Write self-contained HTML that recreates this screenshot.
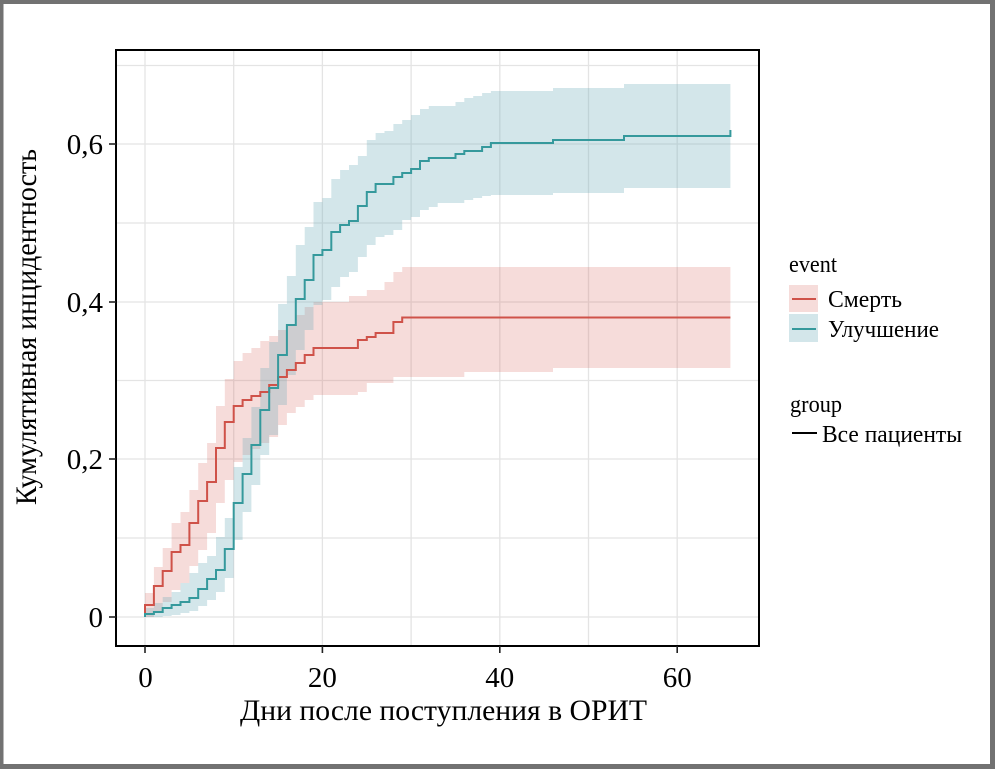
<!DOCTYPE html>
<html>
<head>
<meta charset="utf-8">
<style>
  html,body{margin:0;padding:0;background:#fff;}
  body{width:995px;height:769px;overflow:hidden;}
  svg{display:block;}
  text{font-family:"Liberation Serif","Noto Serif CJK SC",serif;fill:#000;}
</style>
</head>
<body>
<svg width="995" height="769" viewBox="0 0 995 769" xmlns="http://www.w3.org/2000/svg">
  <!-- background -->
  <rect x="0" y="0" width="995" height="769" fill="#ffffff"/>
  <!-- outer gray frame -->
  <rect x="0" y="0" width="995" height="4" fill="#727272"/>
  <rect x="0" y="0" width="3.5" height="769" fill="#727272"/>
  <rect x="990" y="0" width="5" height="769" fill="#727272"/>
  <rect x="0" y="764" width="995" height="5" fill="#727272"/>

  <!-- panel -->
  <defs>
    <clipPath id="pc"><rect x="116" y="50" width="643" height="596"/></clipPath>
  </defs>
  <rect x="116" y="50" width="643" height="596" fill="#ffffff"/>
  <g clip-path="url(#pc)" stroke="#e4e4e4" stroke-width="1.3" fill="none">
    <!-- vertical grid -->
    <line x1="145" y1="50" x2="145" y2="646"/>
    <line x1="233.7" y1="50" x2="233.7" y2="646"/>
    <line x1="322.4" y1="50" x2="322.4" y2="646"/>
    <line x1="411.1" y1="50" x2="411.1" y2="646"/>
    <line x1="499.8" y1="50" x2="499.8" y2="646"/>
    <line x1="588.5" y1="50" x2="588.5" y2="646"/>
    <line x1="677.2" y1="50" x2="677.2" y2="646"/>
    <!-- horizontal grid -->
    <line x1="116" y1="617" x2="759" y2="617"/>
    <line x1="116" y1="538" x2="759" y2="538"/>
    <line x1="116" y1="459" x2="759" y2="459"/>
    <line x1="116" y1="380.5" x2="759" y2="380.5"/>
    <line x1="116" y1="302" x2="759" y2="302"/>
    <line x1="116" y1="223" x2="759" y2="223"/>
    <line x1="116" y1="144" x2="759" y2="144"/>
    <line x1="116" y1="65.5" x2="759" y2="65.5"/>
  </g>

  <g clip-path="url(#pc)">
    <!-- red (Смерть) band -->
    <path fill="rgb(214,96,86)" fill-opacity="0.22" stroke="none"
      d="M145,593 H153.9 V567 H162.7 V548 H171.6 V523 H180.5 V512 H189.4 V490 H198.2 V463 H207.1 V443 H216 V406 H224.8 V379 H233.7 V361 H242.6 V353 H251.4 V348 H260.3 V341 H269.2 V336 H278.1 V330 H286.9 V324 H295.8 V315 H304.7 V307 H313.5 V302 H349 V296 H366.8 V290 H384.5 V282 H393.4 V272 H402.2 V267 H730.4
         V368 H553 V372 H464.3 V377 H393.4 V383 H366.8 V392 H357.9 V395 H313.5 V400 H304.7 V407 H295.8 V413 H286.9 V425 H278.1 V437 H269.2 V443 H260.3 V449 H251.4 V455 H242.6 V462 H233.7 V480 H224.8 V503 H216 V533 H207.1 V550 H198.2 V566 H189.4 V583 H180.5 V590 H171.6 V602 H162.7 V612 H153.9 V617 H145 Z"/>
    <!-- teal (Улучшение) band -->
    <path fill="rgb(108,172,185)" fill-opacity="0.3" stroke="none"
      d="M145,608 H153.9 V603 H162.7 V597 H171.6 V592 H180.5 V583 H189.4 V573 H198.2 V563 H207.1 V556 H216 V537 H224.8 V518 H233.7 V467 H242.6 V438 H251.4 V407 H260.3 V368 H269.2 V342 H278.1 V304 H286.9 V276 H295.8 V245 H304.7 V227 H313.5 V202 H322.4 V198 H331.3 V179 H340.1 V170 H349 V165 H357.9 V156 H366.8 V140 H375.6 V133 H384.5 V131 H393.4 V124 H402.2 V120 H411.1 V115 H420 V109 H428.8 V106 H455.5 V102 H464.3 V98 H473.2 V96 H482.1 V93 H490.9 V91 H553 V88 H624 V84 H730.4
         V188 H624 V193 H553 V195 H490.9 V196 H482.1 V198 H473.2 V200 H464.3 V203 H437.7 V207 H428.8 V210 H420 V217 H411.1 V220 H402.2 V230 H393.4 V235 H384.5 V237 H375.6 V245 H366.8 V257 H357.9 V272 H349 V277 H340.1 V287 H331.3 V300 H322.4 V305 H313.5 V330 H304.7 V350 H295.8 V375 H286.9 V405 H278.1 V435 H269.2 V455 H260.3 V485 H251.4 V512 H242.6 V540 H233.7 V578 H224.8 V592 H216 V600 H207.1 V606 H198.2 V611 H189.4 V613 H180.5 V615 H171.6 V616 H162.7 V617 H145 Z"/>

    <!-- red line -->
    <path fill="none" stroke="#cf5249" stroke-width="2"
      d="M145,616 V605 H153.9 V586 H162.7 V571 H171.6 V552 H180.5 V545 H189.4 V523 H198.2 V501 H207.1 V482 H216 V448 H224.8 V422 H233.7 V406 H242.6 V400 H251.4 V396 H260.3 V392 H269.2 V385 H278.1 V377 H286.9 V370 H295.8 V363 H304.7 V355 H313.5 V348 H357.9 V340 H366.8 V337 H375.6 V333 H393.4 V322 H402.2 V317.5 H730.4"/>
    <!-- teal line -->
    <path fill="none" stroke="#35999c" stroke-width="2"
      d="M145,617 V614 H153.9 V612 H162.7 V608 H171.6 V605 H180.5 V602 H189.4 V598 H198.2 V589 H207.1 V579 H216 V570 H224.8 V549 H233.7 V503 H242.6 V474 H251.4 V445 H260.3 V410 H269.2 V388 H278.1 V355 H286.9 V325 H295.8 V299 H304.7 V280 H313.5 V255 H322.4 V250 H331.3 V232 H340.1 V225 H349 V221 H357.9 V206 H366.8 V192 H375.6 V184 H393.4 V177 H402.2 V173 H411.1 V169 H420 V161 H428.8 V158 H455.5 V154 H464.3 V151 H482.1 V147 H490.9 V143 H553 V140 H624 V136 H730.4 V130"/>
  </g>

  <!-- panel border -->
  <rect x="116" y="50" width="643" height="596" fill="none" stroke="#000" stroke-width="2"/>

  <!-- y ticks -->
  <g stroke="#222" stroke-width="1.6">
    <line x1="109" y1="617" x2="116" y2="617"/>
    <line x1="109" y1="459" x2="116" y2="459"/>
    <line x1="109" y1="302" x2="116" y2="302"/>
    <line x1="109" y1="144" x2="116" y2="144"/>
    <!-- x ticks -->
    <line x1="145" y1="646" x2="145" y2="653"/>
    <line x1="322.4" y1="646" x2="322.4" y2="653"/>
    <line x1="499.8" y1="646" x2="499.8" y2="653"/>
    <line x1="677.2" y1="646" x2="677.2" y2="653"/>
  </g>

  <!-- y tick labels -->
  <g font-size="29" text-anchor="end">
    <text x="103" y="627">0</text>
    <text x="103" y="469">0,2</text>
    <text x="103" y="312">0,4</text>
    <text x="103" y="154">0,6</text>
  </g>
  <!-- x tick labels -->
  <g font-size="29" text-anchor="middle">
    <text x="145.5" y="687">0</text>
    <text x="322.4" y="687">20</text>
    <text x="499.8" y="687">40</text>
    <text x="677.2" y="687">60</text>
  </g>

  <!-- axis titles -->
  <text x="240" y="720" font-size="30" textLength="407" lengthAdjust="spacingAndGlyphs">Дни после поступления в ОРИТ</text>
  <text transform="translate(36,505) rotate(-90)" x="0" y="0" font-size="30" textLength="356" lengthAdjust="spacingAndGlyphs">Кумулятивная инцидентность</text>

  <!-- legend: event -->
  <text x="789" y="272" font-size="24" textLength="48" lengthAdjust="spacingAndGlyphs">event</text>
  <rect x="789" y="285" width="29" height="27" fill="rgb(214,96,86)" fill-opacity="0.22"/>
  <line x1="792" y1="299" x2="816" y2="299" stroke="#cf5249" stroke-width="2"/>
  <rect x="789" y="314" width="29" height="28" fill="rgb(108,172,185)" fill-opacity="0.3"/>
  <line x1="792" y1="329" x2="816" y2="329" stroke="#35999c" stroke-width="2"/>
  <text x="828" y="307" font-size="24" textLength="74" lengthAdjust="spacingAndGlyphs">Смерть</text>
  <text x="828" y="337" font-size="24" textLength="111" lengthAdjust="spacingAndGlyphs">Улучшение</text>

  <!-- legend: group -->
  <text x="790" y="412" font-size="24" textLength="52" lengthAdjust="spacingAndGlyphs">group</text>
  <line x1="792" y1="433" x2="817" y2="433" stroke="#000" stroke-width="2"/>
  <text x="822" y="442" font-size="24" textLength="140" lengthAdjust="spacingAndGlyphs">Все пациенты</text>
</svg>
</body>
</html>
